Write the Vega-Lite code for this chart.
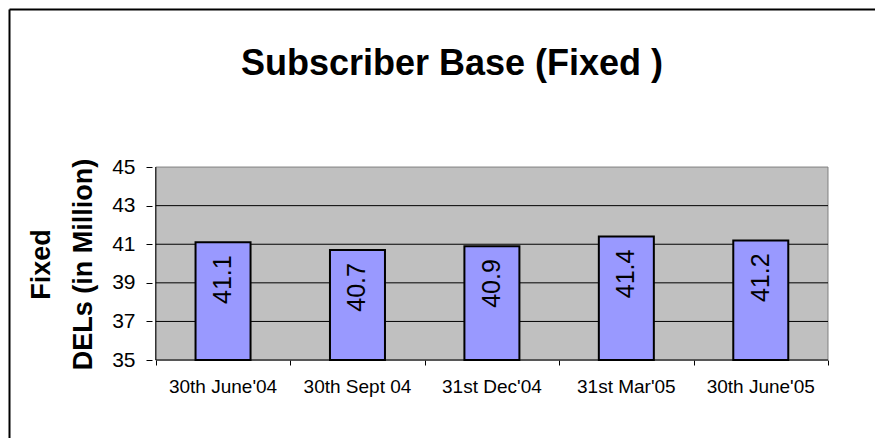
{
  "$schema": "https://vega.github.io/schema/vega-lite/v6.json",
  "width": 866,
  "height": 429,
  "autosize": {"type": "none"},
  "padding": {"left": 9, "top": 9, "right": 0, "bottom": 0},
  "background": "white",
  "config": {
    "view": {"stroke": null},
    "font": "Liberation Sans",
    "axis": {"grid": false}
  },
  "title": {
    "text": "Subscriber Base (Fixed )",
    "font": "Liberation Sans",
    "fontSize": 36,
    "fontWeight": "bold",
    "color": "black",
    "anchor": "middle",
    "offset": -74,
    "dx": 10
  },
  "datasets": {
    "subs": [
      {"idx": 0, "date": "30th June'04", "value": 41.1},
      {"idx": 1, "date": "30th Sept 04", "value": 40.7},
      {"idx": 2, "date": "31st Dec'04", "value": 40.9},
      {"idx": 3, "date": "31st Mar'05", "value": 41.4},
      {"idx": 4, "date": "30th June'05", "value": 41.2}
    ],
    "grid": [{"v": 37}, {"v": 39}, {"v": 41}, {"v": 43}]
  },
  "data": {"name": "subs"},
  "resolve": {"axis": {"x": "independent", "y": "independent"}},
  "layer": [
    {
      "data": {"values": [{}]},
      "mark": {"type": "rect", "fill": "#C0C0C0", "stroke": "#808080", "strokeWidth": 1},
      "encoding": {
        "x": {
          "datum": -0.5,
          "type": "quantitative",
          "scale": {"domain": [-1.555, 4.8125], "nice": false, "zero": false},
          "axis": {"orient": "top", "domain": true, "domainColor": "black", "domainWidth": 2, "ticks": false, "labels": false, "title": null}
        },
        "x2": {"datum": 4.5},
        "y": {
          "datum": 35,
          "type": "quantitative",
          "scale": {"domain": [30.96, 53.19], "nice": false, "zero": false},
          "axis": {"orient": "left", "domain": true, "domainColor": "black", "domainWidth": 2, "ticks": false, "labels": false, "title": null}
        },
        "y2": {"datum": 45}
      }
    },
    {
      "data": {"name": "grid"},
      "mark": {"type": "rule", "color": "black", "strokeWidth": 1},
      "encoding": {
        "y": {"field": "v", "type": "quantitative", "axis": null},
        "x": {"datum": -0.5, "type": "quantitative", "axis": null},
        "x2": {"datum": 4.5}
      }
    },
    {
      "data": {"values": [{}]},
      "mark": {"type": "rule", "color": "black", "strokeWidth": 1},
      "encoding": {
        "y": {"datum": 35, "type": "quantitative", "axis": null},
        "x": {"datum": -0.5, "type": "quantitative", "axis": null},
        "x2": {"datum": 4.5}
      }
    },
    {
      "data": {"values": [{}]},
      "mark": {"type": "rule", "color": "black", "strokeWidth": 1},
      "encoding": {
        "x": {"datum": -0.5, "type": "quantitative", "axis": null},
        "y": {"datum": 35, "type": "quantitative", "axis": null},
        "y2": {"datum": 45}
      }
    },
    {
      "mark": {"type": "bar", "orient": "vertical", "width": 55, "fill": "#9999FF", "stroke": "black", "strokeWidth": 2},
      "encoding": {
        "x": {
          "field": "idx",
          "type": "quantitative",
          "axis": {"orient": "bottom", "offset": -78, "values": [-0.5, 0.5, 1.5, 2.5, 3.5, 4.5], "domain": false, "ticks": true, "tickSize": 5, "tickColor": "black", "labels": false, "title": null}
        },
        "y": {
          "field": "value",
          "type": "quantitative",
          "axis": {
            "orient": "left",
            "offset": -143,
            "values": [35, 37, 39, 41, 43, 45],
            "domain": false,
            "tickSize": 6,
            "tickColor": "black",
            "labelFontSize": 21,
            "labelColor": "black",
            "labelPadding": 11,
            "title": ["Fixed", "DELs (in Million)"],
            "titleFontSize": 27,
            "titleFontWeight": "bold",
            "titleColor": "black",
            "titlePadding": 14,
            "titleLineHeight": 42,
            "titleY": 255
          }
        },
        "y2": {"datum": 35}
      }
    },
    {
      "mark": {"type": "text", "angle": 270, "align": "right", "baseline": "middle", "dx": -13, "fontSize": 25, "color": "black"},
      "encoding": {
        "x": {"field": "idx", "type": "quantitative", "axis": null},
        "y": {"field": "value", "type": "quantitative", "axis": null},
        "text": {"field": "value", "type": "quantitative", "format": ".1f"}
      }
    },
    {
      "mark": {"type": "text", "align": "center", "baseline": "alphabetic", "dy": 33, "fontSize": 19, "color": "black"},
      "encoding": {
        "x": {"field": "idx", "type": "quantitative", "axis": null},
        "y": {"datum": 35, "type": "quantitative", "axis": null},
        "text": {"field": "date", "type": "nominal"}
      }
    }
  ]
}
